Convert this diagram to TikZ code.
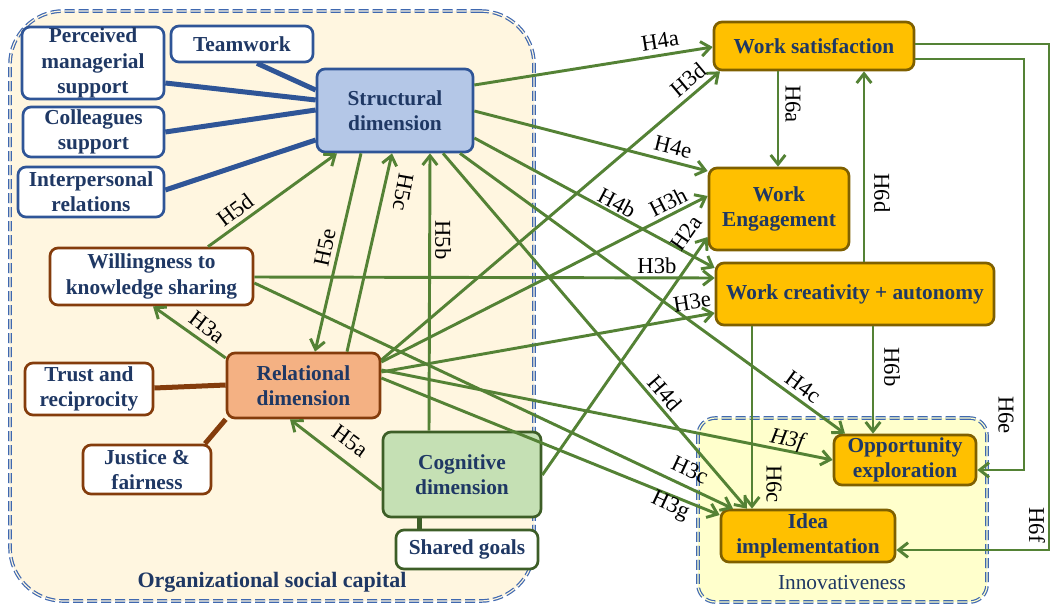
\documentclass[tikz,border=0pt]{standalone}
\usepackage{fontspec}
\setmainfont{Liberation Serif}
\usetikzlibrary{arrows.meta}
\definecolor{txtblue}{HTML}{1F3864}
\definecolor{bblue}{HTML}{2F5597}
\definecolor{sfill}{HTML}{B4C7E7}
\definecolor{bbrown}{HTML}{843C0C}
\definecolor{rfill}{HTML}{F4B183}
\definecolor{bgreen}{HTML}{3D5E27}
\definecolor{cfill}{HTML}{C5E0B4}
\definecolor{ofill}{HTML}{FFC000}
\definecolor{obord}{HTML}{7F6000}
\definecolor{agreen}{HTML}{548235}
\definecolor{dashblue}{HTML}{3F68B0}
\definecolor{cream}{HTML}{FFF6E0}
\definecolor{lyellow}{HTML}{FFFFCC}
\pgfdeclarelayer{back}
\pgfdeclarelayer{bg}
\pgfsetlayers{back,bg,main}
\tikzset{
  sz/.style 2 args={minimum width=#1*0.75pt, minimum height=#2*0.75pt},
  box/.style={rectangle, rounded corners=6pt, line width=2pt, align=center, inner sep=0pt,
    text=txtblue, font=\fontsize{16}{19}\selectfont\bfseries},
  bluebox/.style={box, draw=bblue, fill=white},
  brownbox/.style={box, draw=bbrown, fill=white},
  greenbox/.style={box, draw=bgreen, fill=white},
  orbox/.style={box, draw=obord, fill=ofill},
  arr/.style={draw=agreen, line width=2.2pt, -{Straight Barb[length=7pt,width=11pt]}},
  hl/.style={font=\fontsize{17}{18}\selectfont, inner sep=0pt, text=black},
  container/.style={rectangle, draw=dashblue, line width=0.9pt, double distance=0.9pt,
    dash pattern=on 7.5pt off 3pt},
  thickblue/.style={draw=bblue, line width=3.75pt},
  thickbrown/.style={draw=bbrown, line width=3.75pt},
  thickgreen/.style={draw=bgreen, line width=3.75pt},
}
\begin{document}
\begin{tikzpicture}[x=0.75pt,y=-0.75pt]
\useasboundingbox (0,0) rectangle (1053,606);

\begin{pgfonlayer}{back}
\node[container, fill=cream, double=cream, rounded corners=40pt, sz={524}{590}] (osc) at (272,306) {};
\node[container, fill=lyellow, double=lyellow, rounded corners=13pt, sz={289}{184}] (inn) at (842.5,510) {};
\end{pgfonlayer}

\node[font=\fontsize{16.5}{18}\selectfont\bfseries, text=txtblue] (osclbl) at (272,582) {Organizational social capital};
\node[font=\fontsize{16}{18}\selectfont, text=txtblue] (innlbl) at (842,583) {Innovativeness};

% boxes
\node[bluebox, sz={142}{72}] (pms) at (93,63) {Perceived\\managerial\\support};
\node[bluebox, sz={142}{36}] (tw) at (242,44) {Teamwork};
\node[bluebox, sz={141}{50}] (cs) at (93.5,132) {Colleagues\\support};
\node[bluebox, sz={146}{50}] (ir) at (91,192) {Interpersonal\\relations};
\node[box, draw=bblue, fill=sfill, sz={156}{83}] (S) at (395,110.5) {Structural\\dimension};
\node[brownbox, sz={203}{57}] (wks) at (151.5,276.5) {Willingness to\\knowledge sharing};
\node[brownbox, sz={128}{52}] (tr) at (89,389) {Trust and\\reciprocity};
\node[box, draw=bbrown, fill=rfill, sz={153}{65}] (R) at (303.5,385.5) {Relational\\dimension};
\node[brownbox, sz={128}{49}] (jf) at (147,469.5) {Justice \&\\fairness};
\node[box, draw=bgreen, fill=cfill, sz={158}{85}] (C) at (462,474.5) {Cognitive\\dimension};
\node[greenbox, sz={142}{39}] (sg) at (467,549.5) {Shared goals};
\node[orbox, sz={200}{48}] (ws) at (814,46) {Work satisfaction};
\node[orbox, sz={140}{82}] (we) at (779,209) {Work\\Engagement};
\node[orbox, sz={278}{62}] (wc) at (855,294) {Work creativity + autonomy};
\node[orbox, sz={142}{50}] (oe) at (905,460) {Opportunity\\exploration};
\node[orbox, sz={174}{52}] (ii) at (808,536) {Idea\\implementation};

% thick undirected links
\begin{pgfonlayer}{bg}
\draw[thickblue] (tw.south -| 257,0) -- (S.west |- 0,90);
\draw[thickblue] (pms.east |- 0,83) -- (S.west |- 0,100);
\draw[thickblue] (cs.east |- 0,132) -- (S.west |- 0,110);
\draw[thickblue] (ir.east |- 0,190) -- (S.west |- 0,140);
\draw[thickbrown] (tr.east |- 0,388) -- (R.west |- 0,385);
\draw[thickbrown] (jf.north -| 205,0) -- (R.south west);
\draw[thickgreen] (C.south -| 419,0) -- (sg.north -| 419,0);
\end{pgfonlayer}

% arrows
\draw[arr] (S.east |- 0,85) -- (ws.west |- 0,47);
\draw[arr] (S.east |- 0,111) -- (we.west |- 0,171);
\draw[arr] (S.east |- 0,138) -- (wc.west |- 0,268);
\draw[arr] (S.south -| 443,0) -- (ii.north -| 747,0);
\draw[arr] (S.south -| 460,0) -- (oe.north -| 845,0);
\draw[arr] (S.south -| 361,0) -- (R.north -| 315,0);
\draw[arr] (R.north -| 347,0) -- (S.south -| 392,0);
\draw[arr] (C.north -| 429,0) -- (S.south -| 430,0);
\draw[arr] (wks.north -| 208,0) -- (S.south -| 337,0);
\draw[arr] (C.west |- 0,490) -- (R.south -| 290,0);
\draw[arr] (R.west |- 0,358) -- (wks.south -| 153,0);
\draw[arr] (R.east |- 0,362) -- (we.west |- 0,196);
\draw[arr] (R.east |- 0,360) -- (ws.south -| 720,0);
\draw[arr] (R.east |- 0,372) -- (wc.west |- 0,313);
\draw[arr] (R.east |- 0,370) -- (oe.west |- 0,460);
\draw[arr] (R.east |- 0,378) -- (ii.west |- 0,515);
\draw[arr] (wks.east |- 0,277) -- (wc.west |- 0,278);
\draw[arr] (wks.east |- 0,283) -- (ii.north -| 733,0);
\draw[arr] (C.east |- 0,475) -- (we.west |- 0,237);
\draw[arr] (ws.south -| 778,0) -- (we.north -| 778,0);
\draw[arr] (wc.north -| 864,0) -- (ws.south -| 864,0);
\draw[arr] (wc.south -| 873,0) -- (oe.north -| 873,0);
\draw[arr] (wc.south -| 752,0) -- (ii.north -| 752,0);
\draw[arr] (ws.east |- 0,59) -| (1024,470) -- (oe.east |- 0,470);
\draw[arr] (ws.east |- 0,44) -| (1049,550) -- (ii.east |- 0,550);

% labels
\node[hl, rotate=9] (lH4a) at (660,41) {H4a};
\node[hl, rotate=40] (lH3d) at (688,80) {H3d};
\node[hl, rotate=-14] (lH4e) at (673,147) {H4e};
\node[hl, rotate=-28] (lH4b) at (617,203) {H4b};
\node[hl, rotate=27] (lH3h) at (668,202) {H3h};
\node[hl, rotate=55] (lH2a) at (686,233) {H2a};
\node[hl] (lH3b) at (657,266) {H3b};
\node[hl, rotate=9] (lH3e) at (692,302) {H3e};
\node[hl, rotate=-49] (lH4d) at (665,393) {H4d};
\node[hl, rotate=-36] (lH4c) at (803,387) {H4c};
\node[hl, rotate=-11, font=\fontsize{17}{18}\selectfont\itshape] (lH3f) at (787,440) {H3f};
\node[hl, rotate=-25] (lH3c) at (690,470) {H3c};
\node[hl, rotate=-25] (lH3g) at (670,506) {H3g};
\node[hl, rotate=-36] (lH5a) at (350,441) {H5a};
\node[hl, rotate=-90] (lH5b) at (443,240) {H5b};
\node[hl, rotate=-100] (lH5c) at (403,192) {H5c};
\node[hl, rotate=78] (lH5e) at (325,248) {H5e};
\node[hl, rotate=37] (lH5d) at (235,210) {H5d};
\node[hl, rotate=-37] (lH3a) at (207,327) {H3a};
\node[hl, rotate=-90] (lH6a) at (793,104) {H6a};
\node[hl, rotate=-90] (lH6d) at (882,193) {H6d};
\node[hl, rotate=-90] (lH6b) at (892,367) {H6b};
\node[hl, rotate=-90] (lH6c) at (774,484) {H6c};
\node[hl, rotate=-90] (lH6e) at (1006,415) {H6e};
\node[hl, rotate=-90] (lH6f) at (1037,525) {H6f};
\end{tikzpicture}
\end{document}
